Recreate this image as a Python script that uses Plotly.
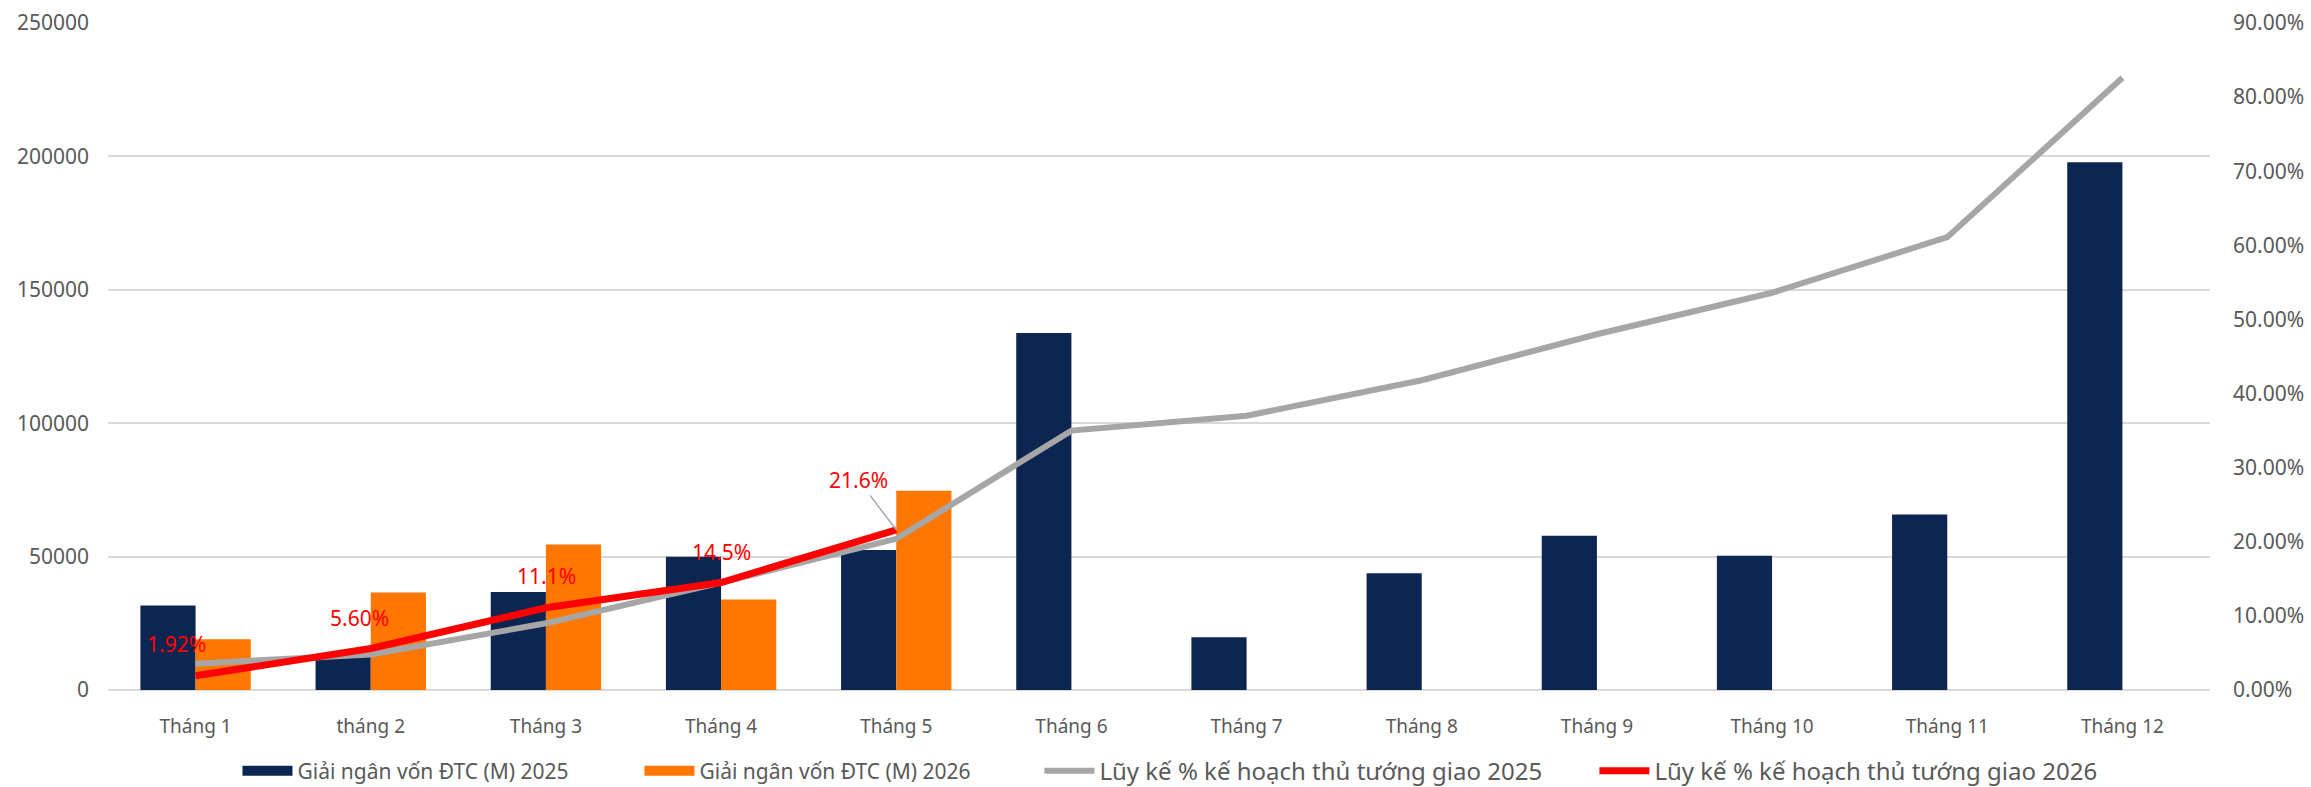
import plotly.graph_objects as go

months = ["Tháng 1", "tháng 2", "Tháng 3", "Tháng 4", "Tháng 5", "Tháng 6",
          "Tháng 7", "Tháng 8", "Tháng 9", "Tháng 10", "Tháng 11", "Tháng 12"]
disb_2025 = [31700, 12500, 36700, 49900, 52500, 133800, 19800, 43800, 57800, 50300, 65800, 197800]
disb_2026 = [19000, 36500, 54500, 33900, 74700]
cum_2025 = [0.0355, 0.048, 0.090, 0.145, 0.204, 0.350, 0.370, 0.418, 0.480, 0.536, 0.611, 0.826]
cum_2026 = [0.0192, 0.056, 0.111, 0.145, 0.216]
labels_2026 = ["1.92%", "5.60%", "11.1%", "14.5%", "21.6%"]
label_offsets = [(-19, -32), (-11, -31), (1, -32), (0, -31), (-38, -50)]

names = ["Giải ngân vốn ĐTC (M) 2025", "Giải ngân vốn ĐTC (M) 2026",
         "Lũy kế % kế hoạch thủ tướng giao 2025", "Lũy kế % kế hoạch thủ tướng giao 2026"]

FONT = "Noto Sans, Open Sans, DejaVu Sans, sans-serif"
NAVY = "#0d2651"
ORANGE = "#ff7700"
GRAY = "#a6a6a6"
RED = "#ff0000"

fig = go.Figure()
fig.add_trace(go.Bar(x=months, y=disb_2025, name=names[0], marker_color=NAVY,
                     marker_line_width=0, showlegend=False))
fig.add_trace(go.Bar(x=months[:len(disb_2026)], y=disb_2026, name=names[1],
                     marker_color=ORANGE, marker_line_width=0, showlegend=False))
# legend entries for the bar series (wide swatches like the original)
fig.add_trace(go.Scatter(x=[None], y=[None], name=names[0], mode="lines",
                         line=dict(color=NAVY, width=20), legend="legend"))
fig.add_trace(go.Scatter(x=[None], y=[None], name=names[1], mode="lines",
                         line=dict(color=ORANGE, width=20), legend="legend"))
fig.add_trace(go.Scatter(x=months, y=cum_2025, name=names[2], mode="lines",
                         line=dict(color=GRAY, width=6), yaxis="y2", legend="legend2"))
fig.add_trace(go.Scatter(x=months[:len(cum_2026)], y=cum_2026, name=names[3], mode="lines",
                         line=dict(color=RED, width=7), yaxis="y2", legend="legend2"))

for i, (txt, (dx, dy)) in enumerate(zip(labels_2026, label_offsets)):
    leader = i == len(labels_2026) - 1
    fig.add_annotation(x=months[i], y=cum_2026[i], xref="x", yref="y2", text=txt,
                       showarrow=True, ax=dx, ay=dy, axref="pixel", ayref="pixel",
                       arrowhead=0, arrowwidth=1.5,
                       arrowcolor=GRAY if leader else "rgba(0,0,0,0)",
                       font=dict(family=FONT, size=21, color=RED))

fig.update_layout(
    width=2311, height=787,
    margin=dict(l=108, r=101, t=23, b=97, autoexpand=False),
    paper_bgcolor="white", plot_bgcolor="white",
    barmode="group", bargap=0.37, bargroupgap=0,
    font=dict(family=FONT, color="#595959"),
    xaxis=dict(tickfont=dict(size=19, color="#595959"), showline=False, ticks="",
               ticklabelstandoff=23),
    yaxis=dict(range=[0, 250000], dtick=50000, tickformat="d", showgrid=True,
               gridcolor="#d9d9d9", gridwidth=2, zeroline=True, zerolinecolor="#d9d9d9",
               zerolinewidth=2, tickfont=dict(size=21, color="#595959"),
               ticklabelstandoff=18),
    yaxis2=dict(range=[0, 0.9], dtick=0.1, tickformat=".2%", overlaying="y", side="right",
                showgrid=False, zeroline=False, tickfont=dict(size=21, color="#595959"),
                ticklabelstandoff=22),
    legend=dict(orientation="h", x=0.0616, xanchor="left", y=-0.1215, yanchor="middle",
                font=dict(family=FONT, size=21, color="#595959"), entrywidth=337,
                entrywidthmode="pixels", bgcolor="rgba(0,0,0,0)", traceorder="normal",
                itemwidth=50),
    legend2=dict(orientation="h", x=0.4431, xanchor="left", y=-0.1215, yanchor="middle",
                 font=dict(family=FONT, size=24, color="#595959"), entrywidth=490,
                 entrywidthmode="pixels", bgcolor="rgba(0,0,0,0)", traceorder="normal",
                 itemwidth=50),
)

fig.write_html("out.html")
